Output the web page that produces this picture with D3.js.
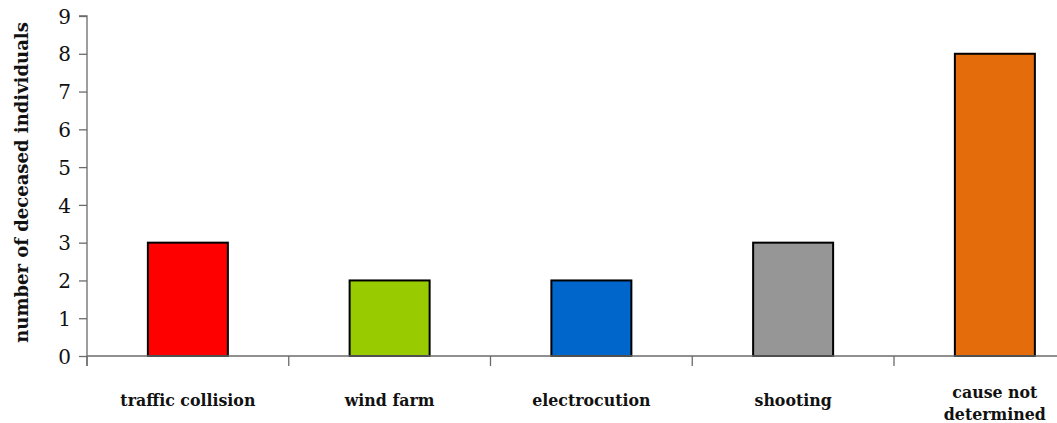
<!DOCTYPE html>
<html>
<head>
<meta charset="utf-8">
<script src="https://cdn.jsdelivr.net/npm/d3@7"></script>
<style>
  html, body { margin: 0; padding: 0; background: #fff; }
  svg { display: block; }
</style>
</head>
<body>
<svg id="chart" width="1057" height="423"></svg>
<script>
const categories = ["traffic collision", "wind farm", "electrocution", "shooting", "cause not determined"];
const categoryLines = [["traffic collision"], ["wind farm"], ["electrocution"], ["shooting"], ["cause not", "determined"]];
const values = [3, 2, 2, 3, 8];
const barColors = ["#FF0000", "#99CC00", "#0066CC", "#969696", "#E46C0A"];
const yTicks = [0, 1, 2, 3, 4, 5, 6, 7, 8, 9];
const yTitle = "number of deceased individuals";

const svg = d3.select("#chart");
const x0 = 87, step = 201.75, y0 = 356, yTop = 16;
const pad = 0.6035;

const x = d3.scaleBand()
  .domain(categories)
  .range([x0, x0 + step * categories.length])
  .paddingInner(pad)
  .paddingOuter(pad / 2);

const y = d3.scaleLinear().domain([0, 9]).range([y0, yTop]);

const axisColor = "#6b6b6b";
const serif = "'DejaVu Serif', 'Liberation Serif', serif";

// bars
svg.append("g").selectAll("rect")
  .data(categories)
  .enter().append("rect")
  .attr("x", d => x(d))
  .attr("y", (d, i) => y(values[i]))
  .attr("width", x.bandwidth())
  .attr("height", (d, i) => y(0) - y(values[i]))
  .attr("fill", (d, i) => barColors[i])
  .attr("stroke", "#000")
  .attr("stroke-width", 2);

// y axis
const yAxis = d3.axisLeft(y).tickValues(yTicks).tickSize(8).tickPadding(8).tickFormat(d3.format("d"));
const gy = svg.append("g").attr("transform", `translate(${x0},0)`).call(yAxis);
gy.select(".domain").attr("stroke", axisColor).attr("stroke-width", 1.3).attr("d", `M-8,${yTop}H0V${y0 + 10}`);
gy.selectAll(".tick line").attr("stroke", axisColor).attr("stroke-width", 1.3);
gy.selectAll(".tick text").attr("fill", "#111").style("font-family", serif).style("font-size", "20px").attr("dy", "0.36em");

// x axis line and boundary ticks
const gx = svg.append("g");
gx.append("line").attr("x1", x0).attr("x2", 1057).attr("y1", y0).attr("y2", y0)
  .attr("stroke", axisColor).attr("stroke-width", 1.3);
const boundaries = categories.map(d => x(d) - x.step() * x.paddingOuter());
gx.selectAll("line.bt").data(boundaries).enter().append("line")
  .attr("class", "bt")
  .attr("x1", d => d).attr("x2", d => d)
  .attr("y1", y0).attr("y2", y0 + 10)
  .attr("stroke", axisColor).attr("stroke-width", 1.3);

// x labels
const lab = svg.append("g").selectAll("text")
  .data(categories)
  .enter().append("text")
  .attr("text-anchor", "middle")
  .attr("font-family", serif)
  .attr("font-weight", "bold")
  .attr("font-size", "15.8px")
  .attr("fill", "#111");
lab.each(function(d, i) {
  const lines = categoryLines[i];
  const cx = x(d) + x.bandwidth() / 2;
  const baseY = lines.length === 1 ? 406 : 398;
  lines.forEach((t, k) => {
    d3.select(this).append("tspan").attr("x", cx).attr("y", baseY + k * 22).text(t);
  });
});

// y title
svg.append("text")
  .attr("transform", `translate(28,${(22 + 343) / 2}) rotate(-90)`)
  .attr("text-anchor", "middle")
  .attr("font-family", serif)
  .attr("font-weight", "bold")
  .attr("font-size", "18px")
  .attr("fill", "#111")
  .text(yTitle);
</script>
</body>
</html>
